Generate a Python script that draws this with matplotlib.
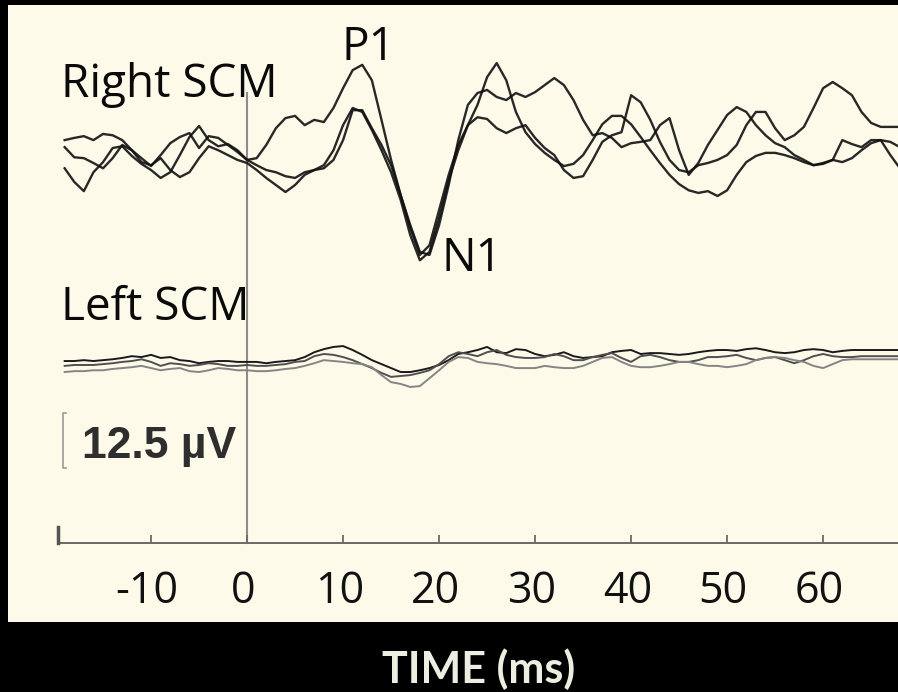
import numpy as np
import matplotlib
matplotlib.use('Agg')
import matplotlib.pyplot as plt

# Sample times (ms), one sample per ms
time_ms = np.arange(-19, 69)

# Right SCM averaged traces (uV)
right_a = [-3.0, -6.1, -8.2, -3.9, -1.6, 1.6, 2.0, -0.2, -2.0, -3.4, -5.2, -3.9, 0.0, 4.1, 6.6, 3.4, 2.0, 2.5, 1.1,
           -1.1, -0.7, 2.3, 6.1, 8.4, 8.9, 6.8, 8.0, 7.5, 10.7,
           15.2, 19.3, 20.5, 17.0, 8.0, -1.1, -9.1, -16.6, -22.7, -20.5,
           -12.5, -4.5, 2.3, 6.8, 11.4, 17.7, 20.9, 17.0, 9.8, 5.2,
           2.5, 0.5, -1.1, -2.5, -2.0, 0.0, 3.4, 7.0, 8.9, 8.9,
           7.0, 4.1, 1.1, -1.8, -4.5, -6.6, -8.0, -8.6, -8.2, -9.3,
           -8.0, -4.5, -1.6, -0.2, 0.5, 0.5, 0.0, -0.7, -1.6, -2.3,
           -2.0, -1.1, 3.4, 2.5, 1.8, 3.4, 3.4, 0.0, -3.0]
right_b = [3.4, 3.9, 4.3, 3.4, 4.8, 4.5, 3.4, 1.1, -0.7, -2.5, 0.0, 2.7, 4.1, 5.0, 1.6, 4.3, 3.9, 2.3, 0.7,
           -1.1, -2.3, -3.4, -3.9, -4.8, -5.2, -3.9, -3.4, -3.0, -1.1,
           3.4, 10.2, 10.2, 6.1, 2.3, -2.3, -9.1, -15.9, -22.0, -22.7,
           -15.9, -6.8, 3.4, 11.4, 14.1, 14.8, 13.2, 12.5, 14.1, 13.2,
           14.3, 15.9, 17.5, 15.9, 12.5, 8.0, 4.5, 5.0, 3.9, 1.8,
           2.7, 3.0, 3.4, 6.8, 8.4, 1.1, -4.5, -1.8, 2.3, 5.7,
           9.1, 10.9, 9.8, 6.8, 4.5, 2.7, 1.8, 0.0, -1.1, -2.3,
           -1.8, -1.1, -1.6, -0.7, 1.1, 2.7, 3.4, 3.0, 1.8]
right_c = [1.8, -0.5, -0.7, -1.8, -3.0, -0.7, 2.3, 1.1, -1.6, -2.3, -0.7, -3.4, -5.0, -3.9, -0.7, 2.0, 1.1, 0.0, -1.1,
           -1.8, -3.4, -5.2, -6.8, -8.4, -6.8, -4.5, -3.4, -2.3, 1.1,
           6.8, 10.7, 9.8, 5.7, 1.1, -3.9, -10.2, -18.2, -23.9, -22.0,
           -14.3, -5.7, 1.1, 6.8, 8.6, 8.2, 6.1, 5.0, 6.1, 6.8,
           3.9, 1.6, 0.0, -3.4, -5.2, -4.8, -1.1, 3.0, 4.5, 5.2,
           13.6, 12.0, 8.0, 3.0, -1.1, -3.4, -3.9, -2.3, -1.8, -1.1,
           0.0, 2.3, 6.8, 9.8, 9.8, 6.1, 3.4, 4.5, 6.4, 10.7,
           15.2, 16.6, 15.2, 13.6, 9.8, 7.3, 6.4, 6.4, 6.4]

# Left SCM averaged traces (uV)
left_a = [1.6, 1.6, 1.8, 1.6, 1.8, 2.0, 2.3, 2.7, 2.5, 3.0, 2.3, 2.5, 1.8, 1.6, 1.1, 1.4, 1.6, 1.6, 1.4,
          1.4, 1.4, 1.1, 1.4, 1.6, 1.8, 2.5, 3.6, 4.3, 4.8,
          5.0, 4.1, 3.0, 1.8, 0.9, 0.0, -0.9, -0.9, -0.5, 0.0,
          0.7, 1.8, 3.2, 3.6, 4.1, 4.8, 3.6, 3.4, 4.3, 4.1,
          3.2, 2.7, 3.0, 3.6, 2.7, 2.3, 2.5, 2.7, 3.6, 3.9,
          4.1, 3.2, 3.4, 3.4, 3.2, 3.0, 3.2, 3.6, 3.9, 4.1,
          4.1, 3.9, 4.3, 4.5, 4.1, 3.6, 3.4, 3.6, 4.1, 4.3,
          4.1, 3.6, 3.9, 4.1, 4.1, 4.1, 4.1, 4.1, 4.1]
left_b = [0.5, 0.7, 0.7, 0.7, 0.9, 1.1, 1.4, 1.6, 2.0, 1.4, 0.5, 1.1, 0.9, 0.5, 0.7, 1.1, 0.9, 0.5, 0.5,
          0.7, 0.5, 0.5, 0.7, 0.9, 1.4, 1.6, 2.7, 3.2, 3.0,
          2.5, 1.8, 0.9, 0.0, -1.1, -2.0, -1.8, -1.6, -1.1, -0.5,
          0.9, 2.7, 3.6, 3.2, 2.7, 3.6, 4.1, 3.0, 2.5, 2.3,
          2.3, 2.5, 3.2, 2.7, 1.8, 1.8, 2.5, 3.0, 3.4, 2.3,
          1.4, 2.7, 3.0, 2.5, 1.8, 1.4, 1.4, 1.8, 2.5, 2.5,
          2.7, 3.0, 2.3, 1.8, 2.3, 2.5, 1.8, 1.1, 1.8, 2.7,
          3.2, 2.7, 2.5, 2.5, 2.7, 2.7, 2.7, 2.7, 2.7]
left_c = [-0.9, -0.7, -0.7, -0.5, -0.5, -0.2, 0.0, 0.2, 0.5, 0.0, -0.5, -0.2, 0.0, -0.7, -0.9, -0.5, 0.0, -0.2, -0.5,
          -0.5, -0.7, -0.7, -0.5, -0.2, 0.0, 0.5, 1.1, 1.8, 1.6,
          1.4, 1.1, 0.9, 0.2, -1.6, -3.2, -3.6, -4.3, -4.1, -2.3,
          -0.5, 1.4, 2.5, 2.3, 1.4, 1.1, 0.9, 0.5, 0.0, 0.0,
          0.0, 0.5, 0.2, 0.0, 0.0, 0.5, 1.4, 2.3, 2.5, 1.4,
          0.5, 0.2, 0.2, 0.5, 0.9, 1.4, 1.4, 0.9, 0.5, 0.5,
          0.2, 0.5, 0.9, 1.8, 2.3, 2.5, 2.3, 1.8, 1.4, 0.5,
          0.0, 0.9, 1.8, 2.0, 2.0, 2.0, 2.0, 2.0, 2.0]

# Axis ticks and labels
tick_ms = [-10, 0, 10, 20, 30, 40, 50, 60]
tick_labels = ['-10', '0', '10', '20', '30', '40', '50', '60']
scale_uv = 12.5

# Layout (data units: ms horizontally, uV vertically)
RIGHT_BASE = 0.0
LEFT_BASE = -48.4
AXIS_Y = -88.2
CREAM = '#FDFAEA'
LABEL_FONT = ['Open Sans', 'DejaVu Sans']


def draw_traces(ax):
    # Right SCM: big P1/N1 response
    for trace in (right_a, right_b, right_c):
        ax.plot(time_ms, np.array(trace) + RIGHT_BASE, color='#111111', lw=1.7, alpha=0.9)
    # Left SCM: almost flat
    for trace, col in zip((left_a, left_b, left_c), ('#1a1a1a', '#505050', '#858585')):
        ax.plot(time_ms, np.array(trace) + LEFT_BASE, color=col, lw=1.4)


def draw_axis(ax):
    # stimulus onset line
    ax.plot([0, 0], [14.1, AXIS_Y], color='#8c8c8c', lw=1.5, zorder=1)
    # time axis with small up ticks
    ax.plot([-19.7, 68], [AXIS_Y, AXIS_Y], color='#6a6a6a', lw=1.4)
    ax.vlines(tick_ms, AXIS_Y, AXIS_Y + 1.8, color='#6a6a6a', lw=1.3)
    ax.plot([-19.7, -19.7], [AXIS_Y, AXIS_Y + 3.7], color='#555555', lw=2.5)
    for t, lab in zip(tick_ms, tick_labels):
        ax.text(t - 0.4, -101.8, lab, ha='center', va='baseline', fontsize=31,
                family=LABEL_FONT, color='#111111')

    # 12.5 uV scale bracket
    top = -58.6
    bot = top - scale_uv
    ax.plot([-18.9, -19.2, -19.2, -18.9], [top, top, bot, bot], color='#9a9a9a', lw=1.2)
    ax.text(-17.2, -68.9, '12.5 \u00b5V', ha='left', va='baseline', fontsize=32,
            fontweight='bold', family=['Liberation Sans', 'DejaVu Sans'], color='#2e2e2e')


def draw_labels(ax):
    ax.text(-19.4, 13.2, 'Right SCM', fontsize=33, family=LABEL_FONT, va='baseline', color='#0a0a0a')
    ax.text(9.8, 21.6, 'P1', fontsize=33, family=LABEL_FONT, va='baseline', color='#0a0a0a')
    ax.text(20.3, -26.4, 'N1', fontsize=33, family=LABEL_FONT, va='baseline', color='#0a0a0a')
    ax.text(-19.4, -37.5, 'Left SCM', fontsize=33, family=LABEL_FONT, va='baseline', color='#0a0a0a')


def main():
    fig = plt.figure(figsize=(8.98, 6.92), dpi=100, facecolor='black')
    ax = fig.add_axes([8 / 898, 70 / 692, 890 / 898, 617 / 692])
    ax.set_facecolor(CREAM)
    for s in ax.spines.values():
        s.set_visible(False)
    ax.set_xticks([])
    ax.set_yticks([])
    ax.set_xlim(-24.9, 67.8)
    ax.set_ylim(-106.1, 34.1)

    draw_traces(ax)
    draw_axis(ax)
    draw_labels(ax)

    fig.text(479 / 898, 1 - 683 / 692, 'TIME (ms)', ha='center', va='baseline', fontsize=31,
             fontweight='bold', family=['Lato', 'DejaVu Sans'], color='#EEEDE1')

    fig.savefig('out.png', dpi=100, facecolor='black')


if __name__ == "__main__":
    main()
